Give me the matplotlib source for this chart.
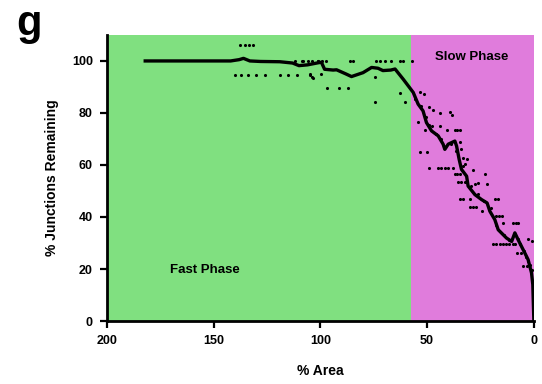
import numpy as np
import matplotlib.pyplot as plt

plt.rcParams['font.family'] = ['Liberation Sans', 'DejaVu Sans']
plt.rcParams['font.weight'] = 'bold'

# fit line
line_x = [182, 142, 138, 136, 133, 128, 119, 113, 110, 106, 101, 99.5, 98, 94, 92.4, 88, 85.4, 80, 76, 73,
          70.7, 67, 65, 61.2, 56.5, 54.2, 51.9, 50.3, 47.9, 44.8, 42.5, 41.7, 40.1, 37, 36.2, 35, 33.9,
          31.5, 30.8, 27.6, 24.5, 21.9, 20.6, 18.3, 16.7, 12.8, 10.4, 8.9, 7.4, 5.8, 4.2, 2.7, 1.1, 0.5, 0]
line_y = [100, 100, 100.5, 101, 100, 99.8, 99.7, 99.2, 98.2, 98.5, 99.3, 99.5, 96.8, 96.5, 96.6, 95, 94,
          95.5, 97.5, 97.2, 96.3, 96.5, 96.9, 93, 87.9, 83.4, 80.8, 76.3, 73.1, 71.2, 68, 66, 68, 69.2,
          67.3, 62.2, 58.3, 55.7, 51.9, 48.6, 46.7, 45.4, 42.2, 39, 35.1, 31.9, 30.6, 33.9, 31.3, 28.7,
          26.1, 23.6, 18.5, 14, 0]

# raw points
pts_x = [137.5, 135.5, 133.5, 131.5,
         140, 137, 133.8, 129.9, 126, 119, 115, 111, 105, 103.5,
         112, 108, 104, 101, 108.8, 105.9, 101, 99.4, 97.4, 86.2, 84.6,
         73.7, 72.1, 69.8, 66.7, 62.8, 61.2, 57,
         105, 103.7, 99.9, 96.8, 91.3, 87, 74.5, 74.5, 62.8, 60.4,
         53.4, 51.5, 49, 47.4, 44, 39.3, 38.5, 54.2, 47.9, 44, 51, 40.9, 37, 35.8, 34.7, 34.7,
         53.4, 50, 33.9, 33.1, 31.5, 49, 44.8, 43.3, 41.8, 40.3, 37.8, 32.3, 28.7,
         37, 35.8, 34.7, 35.6, 34, 32.3, 27.6, 26.1, 23, 21.9,
         34.7, 33.1, 30, 29.7, 28.5, 27.2, 24.5, 18.3, 16.7, 17.5, 16.3, 15.1, 14.4, 9.7, 8.5, 7.4,
         19, 17.5, 16, 14.5, 13, 11.5, 10, 8.9, 7.4, 2.7, 8.1, 5.8, 5, 3.4, 2.7, 1.1, 1.1,
         55.5, 53, 50.5, 49, 46, 43.5, 39, 36.5, 33, 29.5, 26, 23.5, 20, 17.5, 14, 11.5, 9.5, 6.5, 4.5,
         3.5, 2, 1.5]
pts_y = [106.3, 106.3, 106.3, 106.3,
         94.7, 94.7, 94.7, 94.7, 94.7, 94.7, 94.7, 94.7, 94.7, 93.6,
         100, 100, 100, 100, 100, 100, 100, 100, 100, 100, 100,
         100, 100, 100, 100, 100, 100, 100,
         95, 93.7, 95, 89.5, 89.5, 89.5, 93.7, 84.3, 87.6, 84.3,
         88.1, 87.3, 82.4, 81.1, 79.9, 80.2, 79.2, 76.6, 75, 75, 73.5, 73.5, 73.4, 73.4, 73.4, 68.8,
         65, 65, 66.3, 62.8, 62.4, 58.8, 58.8, 58.8, 58.8, 58.8, 58.8, 60.2, 58,
         56.4, 56.4, 56.4, 53.4, 53.4, 53.4, 52.5, 52.9, 56.4, 52.5,
         47, 47, 47, 43.9, 43.9, 43.9, 42.2, 47, 47, 40.3, 40.3, 40.3, 37.7, 37.7, 37.7, 37.7,
         29.6, 29.6, 29.6, 29.6, 29.6, 29.6, 29.6, 29.6, 31.5, 31.5, 26.1, 26.1, 21, 21, 22.9, 19.7, 30.6,
         85.5, 82.5, 78.5, 75.5, 72, 70, 68, 65.5, 59.5, 52, 49, 46, 43.5, 37, 33, 31, 33.5, 29.5, 27,
         24.5, 21.5, 19.5]

phase_split = 57.6

fig = plt.figure(figsize=(5.42, 3.84), dpi=100)
ax = fig.add_axes([0.197, 0.164, 0.788, 0.745])

ax.axvspan(200, phase_split, color='#80E080', lw=0, zorder=0)
ax.axvspan(phase_split, 0, color='#E07CDC', lw=0, zorder=0)

ax.scatter(pts_x, pts_y, s=5, color='black', zorder=2, linewidths=0)
ax.plot(line_x, line_y, color='black', lw=2.4, zorder=3)

ax.text(154, 19.7, 'Fast Phase', fontsize=9.5, fontweight='bold', ha='center', va='center')
ax.text(29, 101.5, 'Slow Phase', fontsize=9.5, fontweight='bold', ha='center', va='center')

ax.set_xlim(200, 0)
ax.set_ylim(0, 110)
ax.set_xticks([200, 150, 100, 50, 0])
ax.set_yticks([0, 20, 40, 60, 80, 100])
ax.set_xlabel('% Area', fontsize=10, fontweight='bold', labelpad=12)
ax.set_ylabel('% Junctions Remaining', fontsize=10, fontweight='bold', labelpad=9)

for s in ['top', 'right']:
    ax.spines[s].set_visible(False)
for s in ['left', 'bottom']:
    ax.spines[s].set_linewidth(2)
ax.tick_params(direction='out', length=5, width=1.6, labelsize=9, pad=5)

fig.text(0.03, 0.99, 'g', fontsize=30, fontweight='bold', va='top', ha='left')

fig.savefig('out.png', dpi=100)
